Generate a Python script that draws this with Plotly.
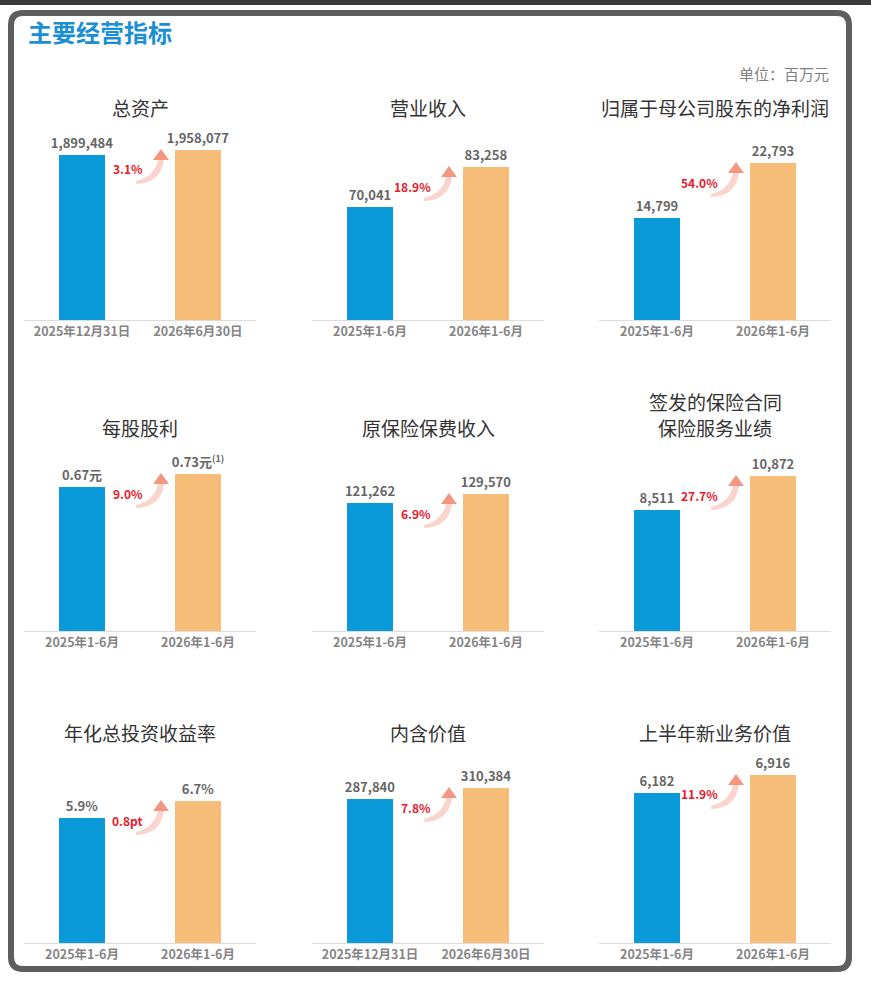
import plotly.graph_objects as go

# panel data (unit: million yuan unless noted)
panel_titles = ["总资产", "营业收入", "归属于母公司股东的净利润",
                "每股股利", "原保险保费收入", "签发的保险合同<br>保险服务业绩",
                "年化总投资收益率", "内含价值", "上半年新业务价值"]
period_labels = [["2025年12月31日", "2026年6月30日"],
                 ["2025年1-6月", "2026年1-6月"],
                 ["2025年1-6月", "2026年1-6月"],
                 ["2025年1-6月", "2026年1-6月"],
                 ["2025年1-6月", "2026年1-6月"],
                 ["2025年1-6月", "2026年1-6月"],
                 ["2025年1-6月", "2026年1-6月"],
                 ["2025年12月31日", "2026年6月30日"],
                 ["2025年1-6月", "2026年1-6月"]]
prior_values = [1899484, 70041, 14799, 0.67, 121262, 8511, 5.9, 287840, 6182]
current_values = [1958077, 83258, 22793, 0.73, 129570, 10872, 6.7, 310384, 6916]
prior_text = ["1,899,484", "70,041", "14,799", "0.67元", "121,262", "8,511",
              "5.9%", "287,840", "6,182"]
current_text = ["1,958,077", "83,258", "22,793", "0.73元<sup>(1)</sup>", "129,570",
                "10,872", "6.7%", "310,384", "6,916"]
growth_text = ["3.1%", "18.9%", "54.0%", "9.0%", "6.9%", "27.7%",
               "0.8pt", "7.8%", "11.9%"]
# value axis ranges so bar heights follow the original page
y_ranges = [[0, 2303600], [32700, 98800], [0, 29040],
            [0, 0.93], [0, 189150], [0, 14030],
            [0, 9.44], [0, 400500], [0, 8233]]

W, H = 871, 982
FONT = "Noto Sans CJK SC"
BLUE = "#0a99d9"
ORANGE = "#f6bd78"

col_left = [24, 312, 599]        # px, plot area left edge per column
col_width = 232
row_base = [320, 631, 943]       # px, baseline per row
row_height = 200
title_y = [107, 427, 732]        # px, last title line per row


def px(x):
    return x / W


def py(y):
    return 1 - y / H


fig = go.Figure()

for i in range(9):
    r, c = divmod(i, 3)
    n = "" if i == 0 else str(i + 1)
    fig.add_trace(go.Bar(
        x=[0, 1],
        y=[prior_values[i], current_values[i]],
        width=0.405,
        marker=dict(color=[BLUE, ORANGE], line=dict(width=0)),
        text=[prior_text[i], current_text[i]],
        textposition="outside",
        constraintext="none",
        textfont=dict(family=FONT, size=13, color="#666666", weight="bold"),
        cliponaxis=False,
        xaxis="x" + n, yaxis="y" + n,
        showlegend=False,
        hoverinfo="skip",
    ))

    fig.update_layout({
        "xaxis" + n: dict(
            domain=[px(col_left[c]), px(col_left[c] + col_width)],
            anchor="y" + n, range=[-0.5, 1.5],
            tickvals=[0, 1], ticktext=period_labels[i],
            tickfont=dict(family=FONT, size=12.5, color="#858585", weight="bold"),
            showline=True, linecolor="#dcdcdc", linewidth=1,
            showgrid=False, zeroline=False, ticks="", fixedrange=True,
        ),
        "yaxis" + n: dict(
            domain=[py(row_base[r]), py(row_base[r] - row_height)],
            anchor="x" + n, range=y_ranges[i],
            visible=False, showgrid=False, zeroline=False, fixedrange=True,
        ),
    })

    # panel title, one annotation per line
    lines = panel_titles[i].split("<br>")
    for k, line in enumerate(lines):
        fig.add_annotation(
            x=px(col_left[c] + col_width / 2),
            y=py(title_y[r] - 26 * (len(lines) - 1 - k)),
            xref="paper", yref="paper", text=line, showarrow=False,
            xanchor="center", yanchor="middle",
            font=dict(family=FONT, size=19, color="#333333"),
        )

    # growth label and curved arrow next to the current bar
    fig.add_annotation(
        x=0.5, y=current_values[i], xref="x" + n, yref="y" + n,
        text=growth_text[i], showarrow=False,
        xanchor="right", yanchor="middle", xshift=5, yshift=-19,
        font=dict(family=FONT, size=12, color="#e8192c", weight="bold"),
    )
    fig.add_shape(
        type="path", xref="x" + n, yref="y" + n,
        xsizemode="pixel", ysizemode="pixel",
        xanchor=0.5, yanchor=current_values[i],
        path="M -4,-34 Q 21,-33 24,-10 L 18,-10 Q 14,-27 -4,-31 Z",
        fillcolor="rgba(246,170,155,0.5)", line=dict(width=0),
    )
    fig.add_shape(
        type="path", xref="x" + n, yref="y" + n,
        xsizemode="pixel", ysizemode="pixel",
        xanchor=0.5, yanchor=current_values[i],
        path="M 13,-10 L 29,-10 L 21,1 Z",
        fillcolor="rgba(240,125,100,0.8)", line=dict(width=0),
    )

# page decoration: top strip and rounded frame
fig.add_shape(type="rect", xref="paper", yref="paper",
              x0=0, x1=1, y0=py(5), y1=1,
              fillcolor="#3a3a3a", line=dict(width=0), layer="below")
x0, x1, y0, y1, rr = px(11), px(849), py(13), py(969), 12
fig.add_shape(
    type="path", xref="paper", yref="paper",
    path=(f"M {x0 + px(rr)},{y0} L {x1 - px(rr)},{y0} Q {x1},{y0} {x1},{y0 - rr / H} "
          f"L {x1},{y1 + rr / H} Q {x1},{y1} {x1 - px(rr)},{y1} "
          f"L {x0 + px(rr)},{y1} Q {x0},{y1} {x0},{y1 + rr / H} "
          f"L {x0},{y0 - rr / H} Q {x0},{y0} {x0 + px(rr)},{y0} Z"),
    line=dict(color="#5e5e5e", width=6), fillcolor="rgba(0,0,0,0)",
)

fig.add_annotation(x=px(26), y=py(32), xref="paper", yref="paper",
                   text="主要经营指标", showarrow=False,
                   xanchor="left", yanchor="middle",
                   font=dict(family=FONT, size=24, color="#1a8fd6", weight="bold"))
fig.add_annotation(x=px(831), y=py(74), xref="paper", yref="paper",
                   text="单位：百万元", showarrow=False,
                   xanchor="right", yanchor="middle",
                   font=dict(family=FONT, size=15, color="#808080"))

fig.update_layout(
    width=W, height=H,
    margin=dict(l=0, r=0, t=0, b=0),
    paper_bgcolor="white", plot_bgcolor="white",
    font=dict(family=FONT),
    bargap=0,
)

# drop the default page margin so the figure fills the window
fig.write_html("out.html", config={"displayModeBar": False},
               post_script="document.body.style.margin='0px';")
